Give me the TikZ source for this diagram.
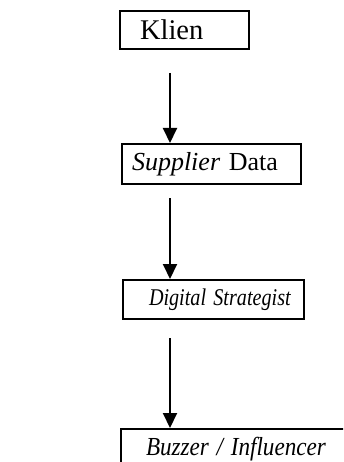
\documentclass[tikz,border=0pt]{standalone}
\usepackage{fontspec}
\usepackage{graphicx}
\setmainfont{Liberation Serif}
\usetikzlibrary{arrows.meta}
\tikzset{
  stagebox/.style={draw, line width=2pt, rectangle, anchor=north west,
    align=left, inner ysep=0pt, font=\fontsize{26}{30}\selectfont},
  flow/.style={line width=2pt, -{Triangle[length=15pt,width=14pt]}}
}
% name, x, y, width, height, left pad, text
\newcommand{\boxat}[7]{%
  \node[stagebox, minimum width=#4pt, minimum height=#5pt, inner xsep=#6pt,
        text width=#4pt-2*#6pt] (#1) at (#2,#3) {\mbox{#7}};}
\newcommand{\narrow}[2]{\scalebox{#1}[1]{#2}}
\begin{document}
\begin{tikzpicture}[x=1pt,y=-1pt]
  \useasboundingbox (0,0) rectangle (343,462);
  \clip (0,0) rectangle (343,462);
  \boxat{klien}{119}{10}{129}{38}{20}{\fontsize{28.5}{30}\selectfont Klien}
  \boxat{supplier}{121}{143}{179}{40}{10}{\textit{Supplier} Data}
  \boxat{strategist}{122}{279}{181}{39}{26}{\fontsize{24}{28}\selectfont\narrow{0.84}{\textit{Digital Strategist}}}
  \boxat{buzzer}{120}{428}{240}{40}{25}{\narrow{0.89}{\textit{Buzzer / Influencer}}}
  \coordinate (s1) at (170,73);
  \coordinate (s2) at (170,198);
  \coordinate (s3) at (170,338);
  \draw[flow] (s1) -- (s1 |- supplier.north);
  \draw[flow] (s2) -- (s2 |- strategist.north);
  \draw[flow] (s3) -- (s3 |- buzzer.north);
\end{tikzpicture}
\end{document}
